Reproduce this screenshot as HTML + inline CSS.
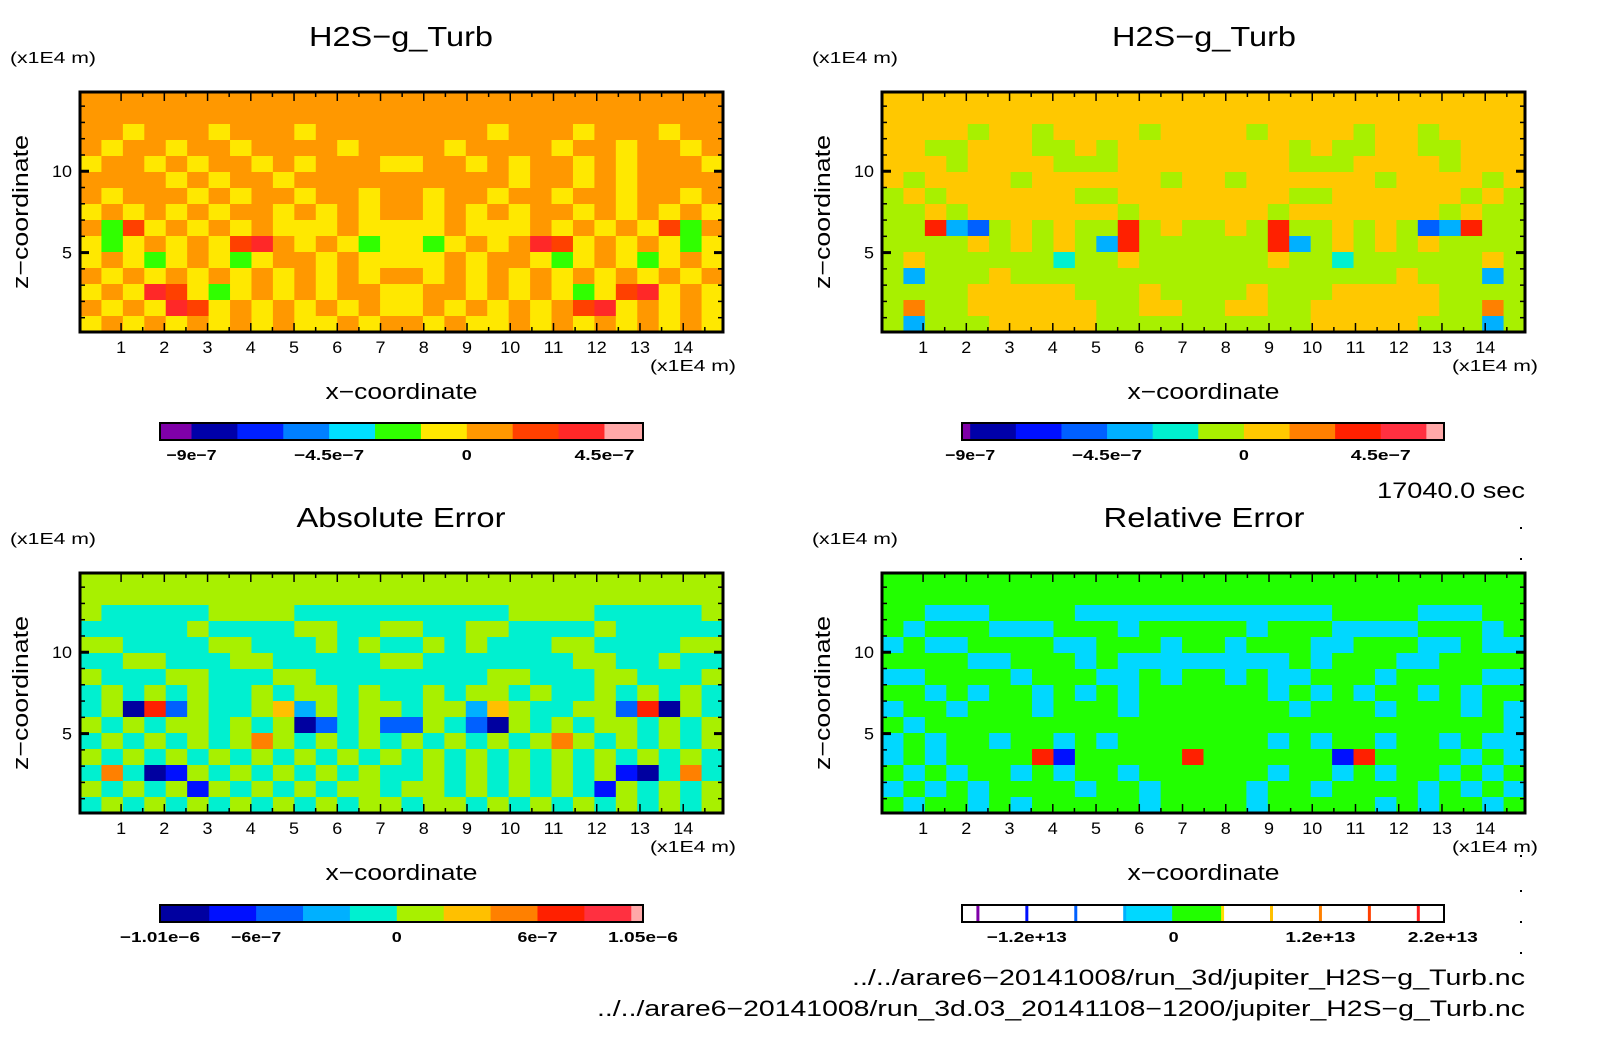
<!DOCTYPE html>
<html><head><meta charset="utf-8"><style>
html,body{margin:0;padding:0;background:#fff;}
svg{display:block;font-family:"Liberation Sans",sans-serif;}
</style></head><body>
<svg id="root" width="1604" height="1054" viewBox="0 0 1604 1054" xmlns="http://www.w3.org/2000/svg"></svg>
<script>
// ---------- data ----------
const xTicks = [1,2,3,4,5,6,7,8,9,10,11,12,13,14];
const yTicks = [5,10];
const xDomain = [0.05, 14.92];
const yDomain = [0.12, 14.87];

const colors1 = ["#7f00a8","#0000a8","#0020ff","#0080ff","#00e0ff","#30ff00","#ffe800","#ff9800","#ff4000","#ff2828","#ffa8a8"];
const colors2 = ["#7f00a8","#0000a8","#0010ff","#0060ff","#00b0ff","#00f0d0","#a8f000","#ffc800","#ff8000","#ff2000","#ff3040","#ffa8a8"];
const colors3 = ["#0000a0","#0010ff","#0060ff","#00b0ff","#00f0d0","#a8f000","#ffc000","#ff8000","#ff2000","#ff3040","#ffa8a8"];
const colors4 = {g:"#22ff00",c:"#00d8ff",r:"#ff2000",o:"#ff8000",y:"#ffe000",b:"#0010ff"};

const grid1 = [
"777777777777777777777777777777",
"777777777777777777777777777777",
"776777677767777777767776777677",
"767767767777677776777767767767",
"677676776767776677676776767776",
"777767677677777777776776767777",
"767776767767767767767767767767",
"676767677676767767676776767676",
"758676767666766667666767676857",
"656767689767656656767986767656",
"676567656776766667677656765676",
"767676767676767767676767676767",
"676986567676776677676765689676",
"767698676767676676767678967676",
"676767676766767767667676767676"];
const grid2 = [
"777777777777777777777777777777",
"777777777777777777777777777777",
"777767767777677776777767767777",
"776677766767777777767667766777",
"777677776667777777766677776777",
"767777677777767767777776777767",
"676777777667777777766777777676",
"667677777776777777677777776766",
"669436767669676676966767634966",
"666676767649666666946767676666",
"676666665667666666766566666676",
"646667666666666666666666766646",
"666677777666766667666777776666",
"686677777766776677667777776686",
"646667777766666666667777766646"];
const grid3 = [
"555555555555555555555555555555",
"555555555555555555555555555555",
"544444555544444444445555444445",
"444445444455445544554444544444",
"554444554445454454544455444455",
"445544455444445544444445544544",
"544455444554444444455444554445",
"454545445455454454554544545454",
"450825445635455455365445528054",
"545455454502452254205454554545",
"454545457545454545454575454545",
"545454545454545454545454545454",
"474015454545454454545454510474",
"545451545454554554545454154545",
"454545454545455455454545454545"];
const grid4 = [
"gggggggggggggggggggggggggggggg",
"gggggggggggggggggggggggggggggg",
"ggcccggggccccccccccccggggcccgg",
"gcgggcccgggcgggggcgggccccgggcg",
"cgccggggccgggcggcgggccgggccgcc",
"ggggccgggcgccccccccgcgggccgggg",
"ccggggcgggccgcggcgccgggcggggcc",
"ggcgcggcgcgcggggggcgcgcggcgcgg",
"cggcgggcgggcgggggggcgggcgggcgc",
"gcgggggggggggggggggggggggggggc",
"cgcggcggcgcgggggggcgcggcggcgcc",
"cgcggggrbgggggrggggggbrggggcgc",
"gcgcggcgcggcggggggcggcgcggcgcg",
"cgcgcggggcggcggggcggcggggcgcgc",
"gcggcgcgggggcggggcgggggcgcggcg"];

// colorbar data
const cb1Bounds = [-1.003e-6,-9e-7,-7.5e-7,-6e-7,-4.5e-7,-3e-7,-1.5e-7,0,1.5e-7,3e-7,4.5e-7,5.76e-7];
const cb1Labels = ["-9e-7","-4.5e-7","0","4.5e-7"];
const cb1LabelVals = [-9e-7,-4.5e-7,0,4.5e-7];
const cb2Bounds = [-9.27e-7,-9e-7,-7.5e-7,-6e-7,-4.5e-7,-3e-7,-1.5e-7,0,1.5e-7,3e-7,4.5e-7,6e-7,6.58e-7];
const cb2Labels = ["-9e-7","-4.5e-7","0","4.5e-7"];
const cb2LabelVals = [-9e-7,-4.5e-7,0,4.5e-7];
const cb3Bounds = [-1.01e-6,-8e-7,-6e-7,-4e-7,-2e-7,0,2e-7,4e-7,6e-7,8e-7,1e-6,1.05e-6];
const cb3Labels = ["-1.01e-6","-6e-7","0","6e-7","1.05e-6"];
const cb3LabelVals = [-1.01e-6,-6e-7,0,6e-7,1.05e-6];
const cb4Bounds = [-1.73,-1.6,-1.2,-0.8,-0.4,0,0.4,0.8,1.2,1.6,2.0,2.21];
const cb4Fills = ["#fff","#fff","#fff","#fff","#00d8ff","#22ff00","#fff","#fff","#fff","#fff","#fff"];
const cb4Lines = ["#7f00a8","#0010ff","#0060ff","#00b0ff","#22ff00","#ffe000","#ffc000","#ff8000","#ff4000","#ff2020"];
const cb4Labels = ["-1.2e+13","0","1.2e+13","2.2e+13"];
const cb4LabelVals = [-1.2,0,1.2,2.2];

// ---------- drawing ----------
const NS="http://www.w3.org/2000/svg";
const root=document.getElementById('root');
function mk(tag,attrs,parent){const e=document.createElementNS(NS,tag);for(const k in attrs)e.setAttribute(k,attrs[k]);(parent||root).appendChild(e);return e;}
function txt(s,x,y,size,anchor,parent,extra,width){
  const a=Object.assign({x:x,y:y,'font-size':size,'text-anchor':anchor||'middle',fill:'#000'},extra||{});
  if(width){a.textLength=width;a.lengthAdjust='spacingAndGlyphs';}
  const t=mk('text',a,parent);t.textContent=s;return t;}

function panel(px0,px1,py0,py1,grid,colorFn,name){
  const g=mk('g',{});
  
  
  const sx=v=>px0+(v-xDomain[0])/(xDomain[1]-xDomain[0])*(px1-px0);
  const sy=v=>py1-(v-yDomain[0])/(yDomain[1]-yDomain[0])*(py1-py0);
  const rows=grid.length, cols=grid[0].length;
  const dx=(xDomain[1]-xDomain[0])/cols, dy=(yDomain[1]-yDomain[0])/rows;
  for(let r=0;r<rows;r++)for(let c=0;c<cols;c++){
    const x0=sx(xDomain[0]+c*dx), x1=sx(xDomain[0]+(c+1)*dx);
    const yT=sy(yDomain[1]-r*dy), yB=sy(yDomain[1]-(r+1)*dy);
    const cell=mk('rect',{x:x0.toFixed(2),y:yT.toFixed(2),width:(x1-x0+0.6).toFixed(2),height:(yB-yT+0.6).toFixed(2),fill:colorFn(grid[r][c])},g);
    
    
  }
  for(let v=1;v<=14.5;v+=0.5){
    const major=Number.isInteger(v); const L=major?9:5; const x=sx(v);
    mk('line',{x1:x,x2:x,y1:py1,y2:py1-L,stroke:'#000','stroke-width':1.5},g);
    mk('line',{x1:x,x2:x,y1:py0,y2:py0+L,stroke:'#000','stroke-width':1.5},g);
  }
  for(let v=1;v<=14;v+=1){
    const major=(v%5===0); const L=major?9:5; const y=sy(v);
    mk('line',{x1:px0,x2:px0+L,y1:y,y2:y,stroke:'#000','stroke-width':major?3:1.5},g);
    mk('line',{x1:px1,x2:px1-L,y1:y,y2:y,stroke:'#000','stroke-width':major?3:1.5},g);
  }
  mk('rect',{x:px0,y:py0,width:px1-px0,height:py1-py0,fill:'none',stroke:'#000','stroke-width':3},g);
  xTicks.forEach(v=>{const t=txt(String(v),sx(v),py1+21,17,'middle',g,null,String(v).length*10);
    
    });
  yTicks.forEach(v=>{const t=txt(String(v),px0-8,sy(v)+6,17,'end',g,null,String(v).length*10);
    
    });
  const xu=txt('(x1E4 m)',px1+13,py1+39,16,'end',g,null,86);
  
  
  const xl=txt('x\u2212coordinate',(px0+px1)/2,py1+67,22,'middle',g,null,152);
  
  
  const yl=txt('z\u2212coordinate',0,0,22,'middle',g,{transform:`translate(${px0-52},${(py0+py1)/2}) rotate(-90)`},154);
  
  
  const yu=txt('(x1E4 m)',px0-70,py0-29,16,'start',g,null,86);
  
  
}

function colorbar(x0,x1,y0,y1,bounds,fills,labels,labelVals,name,lines){
  const g=mk('g',{});
  
  
  const sc=v=>x0+(v-bounds[0])/(bounds[bounds.length-1]-bounds[0])*(x1-x0);
  for(let i=0;i<bounds.length-1;i++){
    const s=mk('rect',{x:sc(bounds[i]),y:y0,width:sc(bounds[i+1])-sc(bounds[i])+0.5,height:y1-y0,fill:fills[i]},g);
    
    
  }
  if(lines){for(let i=0;i<lines.length;i++){const x=sc(bounds[i+1]);
    mk('line',{x1:x,x2:x,y1:y0,y2:y1,stroke:lines[i],'stroke-width':3},g);}}
  mk('rect',{x:x0,y:y0,width:x1-x0,height:y1-y0,fill:'none',stroke:'#000','stroke-width':2},g);
  labels.forEach((s,i)=>{const t=txt(s.replace(/-/g,'\u2212'),sc(labelVals[i]),y1+20,15,'middle',g,{'font-weight':'bold'},s.length*10);
    
    });
}

const P={L1:80,R1:723,L2:882,R2:1525,T1:92,B1:332,T2:573,B2:813};
panel(P.L1,P.R1,P.T1,P.B1,grid1,ch=>colors1[parseInt(ch,16)],'panel-h2s-run1');
panel(P.L2,P.R2,P.T1,P.B1,grid2,ch=>colors2[parseInt(ch,16)],'panel-h2s-run2');
panel(P.L1,P.R1,P.T2,P.B2,grid3,ch=>colors3[parseInt(ch,16)],'panel-absolute-error');
panel(P.L2,P.R2,P.T2,P.B2,grid4,ch=>colors4[ch],'panel-relative-error');

colorbar(160,643,423,440,cb1Bounds,colors1,cb1Labels,cb1LabelVals,'colorbar-h2s-run1');
colorbar(962,1444,423,440,cb2Bounds,colors2,cb2Labels,cb2LabelVals,'colorbar-h2s-run2');
colorbar(160,643,905,922,cb3Bounds,colors3,cb3Labels,cb3LabelVals,'colorbar-absolute-error');
colorbar(962,1444,905,922,cb4Bounds,cb4Fills,cb4Labels,cb4LabelVals,'colorbar-relative-error',cb4Lines);

const titles=[["H2S\u2212g_Turb",401,46,'title-h2s-run1',184],["H2S\u2212g_Turb",1204,46,'title-h2s-run2',184],["Absolute Error",401,527,'title-absolute-error',209],["Relative Error",1204,527,'title-relative-error',201]];
titles.forEach(a=>{const t=txt(a[0],a[1],a[2],28,'middle',null,null,a[4]);
  
  });

const tm=txt('17040.0 sec',1525,498,22,'end',null,null,148);


const f1=txt('../../arare6\u221220141008/run_3d/jupiter_H2S\u2212g_Turb.nc',1525,985,22,'end',null,null,673);


const f2=txt('../../arare6\u221220141008/run_3d.03_20141108\u22121200/jupiter_H2S\u2212g_Turb.nc',1525,1016,22,'end',null,null,928);


[527,558,855,890,921,952].forEach(y=>{const d=mk('rect',{x:1520,y:y,width:2,height:2,fill:'#000'});
  
  });
</script>
</body></html>
